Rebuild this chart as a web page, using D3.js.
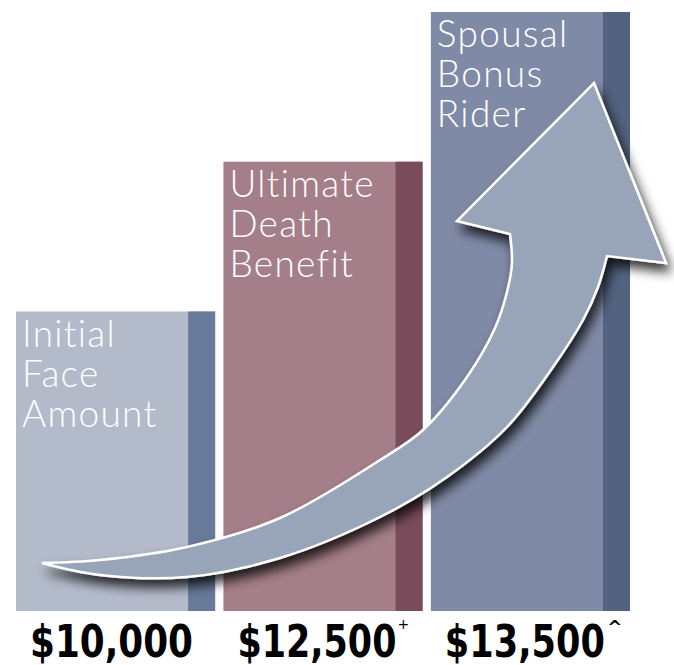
<!DOCTYPE html>
<html>
<head>
<meta charset="utf-8">
<script src="https://cdn.jsdelivr.net/npm/d3@7"></script>
<style>
  html, body { margin: 0; padding: 0; background: #fff; }
  svg { display: block; }
</style>
</head>
<body>
<svg id="chart" width="674" height="665"></svg>
<script>
// ---- data ----
const categories = ["Initial Face Amount", "Ultimate Death Benefit", "Spousal Bonus Rider"];
const labelLines = [["Initial", "Face", "Amount"], ["Ultimate", "Death", "Benefit"], ["Spousal", "Bonus", "Rider"]];
const values = [10000, 12500, 13500];
const valueLabels = ["$10,000", "$12,500", "$13,500"];
const footnoteMarks = ["", "+", "^"];
const lightColors = ["#b3bac9", "#a47e88", "#7f8aa6"];
const darkColors = ["#687a99", "#7a4c5b", "#52627f"];

// decorative swoosh arrow outline (annotation, not data)
const arrowTopEdge = [[42,563],[100,560],[187,547],[280,518],[380,460],[423,430],[467,377],[495,328],[507,292],[512,263],[510,234]];
const arrowHead = [[457,221],[594,83],[666,263]];
const arrowBottomEdge = [[607,256],[598,287],[583,320],[553,367],[507,427],[447,477],[380,517],[280,558],[187,577],[100,575],[42,563]];

// ---- layout ----
const plotLeft = 16, plotRight = 630, plotBottom = 611, plotTop = 12;
const svg = d3.select("#chart");

const x = d3.scaleBand().domain(categories).range([plotLeft, plotRight]).paddingInner(0.04).paddingOuter(0);
// pictograph tiers: bars step up evenly in the order of the values
const tierUnit = (plotBottom - plotTop) / (values.length + 1);
const y = d3.scaleLinear()
  .domain([0, ...values])
  .range([plotBottom, ...values.map((v, i) => plotBottom - tierUnit * (i + 2))]);

const defs = svg.append("defs");
const f = defs.append("filter").attr("id", "shadow").attr("x", "-20%").attr("y", "-20%").attr("width", "140%").attr("height", "140%");
f.append("feGaussianBlur").attr("in", "SourceAlpha").attr("stdDeviation", 6).attr("result", "b");
f.append("feOffset").attr("in", "b").attr("dx", 4).attr("dy", 8).attr("result", "o");
f.append("feComponentTransfer").attr("in", "o").attr("result", "s")
  .append("feFuncA").attr("type", "linear").attr("slope", 0.8);
const m = f.append("feMerge");
m.append("feMergeNode").attr("in", "s");
m.append("feMergeNode").attr("in", "SourceGraphic");

const darkW = 27;
const bars = svg.append("g").selectAll("g").data(categories).join("g");
bars.append("rect")
  .attr("x", d => x(d)).attr("y", (d, i) => y(values[i]))
  .attr("width", x.bandwidth()).attr("height", (d, i) => y(0) - y(values[i]))
  .attr("fill", (d, i) => lightColors[i]);
bars.append("rect")
  .attr("x", d => x(d) + x.bandwidth() - darkW).attr("y", (d, i) => y(values[i]))
  .attr("width", darkW).attr("height", (d, i) => y(0) - y(values[i]))
  .attr("fill", (d, i) => darkColors[i]);

bars.append("text")
  .attr("x", d => x(d) + 6)
  .attr("y", (d, i) => y(values[i]) + 35)
  .attr("fill", "#fff")
  .attr("font-family", "Lato, 'Open Sans', sans-serif")
  .attr("font-weight", 300)
  .attr("font-size", 37)
  .attr("letter-spacing", 1.3)
  .selectAll("tspan").data((d, i) => labelLines[i]).join("tspan")
  .attr("x", function() { return d3.select(this.parentNode).attr("x"); })
  .attr("dy", (d, j) => j === 0 ? 0 : 40)
  .text(d => d);

// arrow
const line = d3.line().curve(d3.curveCatmullRom.alpha(0.5));
const p1 = line(arrowTopEdge);
const p2 = line(arrowBottomEdge);
const headStr = arrowHead.map(p => "L" + p[0] + "," + p[1]).join("");
const arrowPath = p1 + headStr + p2.replace(/^M/, "L") + "Z";
svg.append("path").attr("d", arrowPath)
  .attr("fill", "#98a4b8").attr("stroke", "#fff").attr("stroke-width", 2.5)
  .attr("stroke-linejoin", "miter")
  .attr("filter", "url(#shadow)");

// value labels
const labelW = [163, 159, 160];
const vg = svg.append("g").selectAll("g").data(categories).join("g");
vg.append("text")
  .attr("x", d => x(d) + 14)
  .attr("y", 657)
  .attr("font-family", "'DejaVu Sans', sans-serif")
  .attr("font-weight", "bold")
  .attr("font-size", 45)
  .attr("textLength", (d, i) => labelW[i])
  .attr("lengthAdjust", "spacingAndGlyphs")
  .attr("fill", "#000")
  .text((d, i) => valueLabels[i]);
vg.append("text")
  .attr("x", (d, i) => x(d) + 14 + labelW[i] + (i === 2 ? 10 : 7))
  .attr("y", (d, i) => i === 2 ? 633 : 629)
  .attr("text-anchor", "middle")
  .attr("font-family", "'DejaVu Sans', sans-serif")
  .attr("font-weight", (d, i) => i === 2 ? "bold" : "normal")
  .attr("font-size", (d, i) => i === 2 ? 18 : 14)
  .attr("fill", "#000")
  .text((d, i) => footnoteMarks[i]);
</script>
</body>
</html>
